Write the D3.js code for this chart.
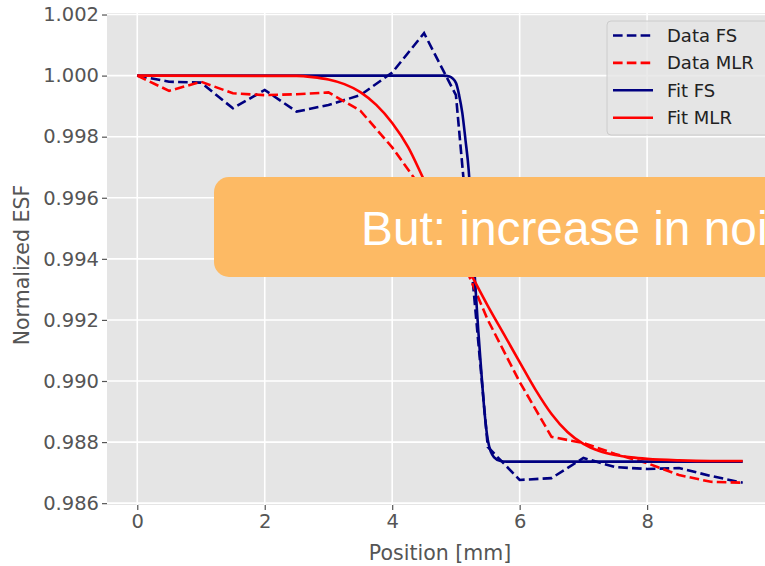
<!DOCTYPE html>
<html>
<head>
<meta charset="utf-8">
<script src="https://cdn.jsdelivr.net/npm/d3@7"></script>
<style>
  body { margin: 0; background: #fff; overflow: hidden; }
  text { font-family: "DejaVu Sans", sans-serif; }
</style>
</head>
<body>
<div id="esf_plot"></div>
<script>
// positions of the measured points [mm]
var positions = [0, 0.5, 1, 1.5, 2, 2.5, 3, 3.5, 4, 4.5, 5, 5.5, 6, 6.5, 7, 7.5, 8, 8.5, 9, 9.5];

// measured ESF, full spectrum and multi-level readout
var dataFS  = [1.00000, 0.99980, 0.99977, 0.99893, 0.99953, 0.99882, 0.99904, 0.99936, 1.00010, 1.00139,
               0.99936, 0.98784, 0.98676, 0.98682, 0.98748, 0.98718, 0.98712, 0.98715, 0.98689, 0.98667];
var dataMLR = [1.00000, 0.99950, 0.99980, 0.99942, 0.99936, 0.99939, 0.99945, 0.99885, 0.99765, 0.99619,
               0.99445, 0.99200, 0.98997, 0.98817, 0.98797, 0.98761, 0.98731, 0.98692, 0.98670, 0.98667];

// fitted curves
var fitFSx = [0, 4.8, 4.9, 5.0, 5.05, 5.1, 5.15, 5.2, 5.25, 5.3, 5.35, 5.4, 5.45, 5.5, 5.55, 5.6, 5.7, 5.8, 9.5];
var fitFSy = [1.00000, 1.00000, 0.99997, 0.99976, 0.99936, 0.99878, 0.99789, 0.99691, 0.99521, 0.99327,
              0.99167, 0.99026, 0.98895, 0.98807, 0.98767, 0.98750, 0.98738, 0.98736, 0.98736];
var fitMLRx = [0, 2.5, 2.75, 3.0, 3.25, 3.5, 3.75, 4.0, 4.25, 4.5, 4.75, 5.0, 5.25, 5.5, 5.75, 6.0, 6.25,
               6.5, 6.75, 7.0, 7.25, 7.5, 7.75, 8.0, 8.5, 9.0, 9.5];
var fitMLRy = [1.00000, 0.99999, 0.99995, 0.99987, 0.99972, 0.99946, 0.99904, 0.99845, 0.99766, 0.99658,
               0.99550, 0.99445, 0.99344, 0.99246, 0.99154, 0.99062, 0.98971, 0.98892, 0.98833, 0.98794,
               0.98771, 0.98758, 0.98750, 0.98745, 0.98740, 0.98738, 0.98738];

var xTicks = [0, 2, 4, 6, 8];
var yTicks = [0.986, 0.988, 0.990, 0.992, 0.994, 0.996, 0.998, 1.000, 1.002];

var seriesNames = ["Data FS", "Data MLR", "Fit FS", "Fit MLR"];
var seriesColors = ["#000080", "#ff0000", "#000080", "#ff0000"];
var seriesDashed = [true, true, false, false];

var noteText = "But: increase in noise";

//Set Margins
var margin = {top: 13, right: 0, bottom: 61, left: 107},
    width = 666,
    height = 492;

//Define SVG
var svg = d3.select("#esf_plot")
  .append("svg")
    .attr("width", 765)
    .attr("height", 566)
  .append("g")
    .attr("transform", "translate(" + margin.left + "," + margin.top + ")");

// Scales (matplotlib style limits with 5% margin)
var x = d3.scaleLinear().domain([-0.475, 9.975]).range([0, width]);
var y = d3.scaleLinear().domain([0.98594, 1.00205]).range([height, 0]);

// Background
svg.append("rect")
  .attr("width", width)
  .attr("height", height)
  .attr("fill", "#e5e5e5");

// Grid
svg.append("g")
  .selectAll("line")
  .data(xTicks)
  .enter().append("line")
    .attr("x1", function(d) { return x(d); })
    .attr("x2", function(d) { return x(d); })
    .attr("y1", 0)
    .attr("y2", height)
    .attr("stroke", "#fff")
    .attr("stroke-width", 1.6);
svg.append("g")
  .selectAll("line")
  .data(yTicks)
  .enter().append("line")
    .attr("x1", 0)
    .attr("x2", width)
    .attr("y1", function(d) { return y(d); })
    .attr("y2", function(d) { return y(d); })
    .attr("stroke", "#fff")
    .attr("stroke-width", 1.6);

// X Axis
var xAxis = svg.append("g")
  .attr("transform", "translate(0," + height + ")")
  .call(d3.axisBottom(x).tickValues(xTicks).tickFormat(d3.format("d")).tickSize(5).tickPadding(4));

// Y Axis
var yAxis = svg.append("g")
  .call(d3.axisLeft(y).tickValues(yTicks).tickFormat(d3.format(".3f")).tickSize(5).tickPadding(3));

[xAxis, yAxis].forEach(function(ax) {
  ax.select(".domain").remove();
  ax.selectAll(".tick line").attr("stroke", "#555").attr("stroke-width", 1.2);
  ax.selectAll(".tick text")
    .attr("fill", "#555")
    .style("font-size", "19.5px")
    .style("font-family", "DejaVu Sans, sans-serif");
});

// Axis labels
svg.append("text")
  .attr("text-anchor", "middle")
  .attr("x", x(4.75))
  .attr("y", height + 55)
  .attr("fill", "#555")
  .style("font-size", "20.5px")
  .text("Position [mm]");

svg.append("text")
  .attr("text-anchor", "middle")
  .attr("transform", "rotate(-90)")
  .attr("x", -height / 2 - 6)
  .attr("y", -78)
  .attr("fill", "#555")
  .style("font-size", "20.5px")
  .text("Normalized ESF");

// Lines
var line = d3.line()
  .x(function(d) { return x(d[0]); })
  .y(function(d) { return y(d[1]); });

var smooth = d3.line()
  .curve(d3.curveMonotoneX)
  .x(function(d) { return x(d[0]); })
  .y(function(d) { return y(d[1]); });

var seriesData = [
  d3.zip(positions, dataFS),
  d3.zip(positions, dataMLR),
  d3.zip(fitFSx, fitFSy),
  d3.zip(fitMLRx, fitMLRy)
];

seriesData.forEach(function(pts, i) {
  svg.append("path")
    .datum(pts)
    .attr("fill", "none")
    .attr("stroke", seriesColors[i])
    .attr("stroke-width", 2.6)
    .attr("stroke-dasharray", seriesDashed[i] ? "9.6,4.2" : null)
    .attr("d", seriesDashed[i] ? line : smooth);
});

// Legend
var legend = svg.append("g")
  .attr("transform", "translate(" + (607 - margin.left) + "," + (21 - margin.top) + ")");

legend.append("rect")
  .attr("width", 165)
  .attr("height", 114)
  .attr("rx", 4)
  .attr("fill", "#e5e5e5")
  .attr("fill-opacity", 0.8)
  .attr("stroke", "#cccccc")
  .attr("stroke-width", 1);

seriesNames.forEach(function(name, i) {
  var row = legend.append("g").attr("transform", "translate(0," + (14.5 + i * 27.4) + ")");
  row.append("line")
    .attr("x1", 6)
    .attr("x2", 46)
    .attr("stroke", seriesColors[i])
    .attr("stroke-width", 2.6)
    .attr("stroke-dasharray", seriesDashed[i] ? "9.6,4.2" : null);
  row.append("text")
    .attr("x", 60)
    .attr("dy", "0.35em")
    .attr("fill", "#222")
    .style("font-size", "18px")
    .text(name);
});

// Annotation box
svg.append("rect")
  .attr("x", 214 - margin.left)
  .attr("y", 177 - margin.top)
  .attr("width", 620)
  .attr("height", 100)
  .attr("rx", 15)
  .attr("fill", "#fdba64");

svg.append("text")
  .attr("x", 361 - margin.left)
  .attr("y", 245 - margin.top)
  .attr("fill", "#fff")
  .style("font-family", "Liberation Sans, Arial, sans-serif")
  .style("font-size", "47.8px")
  .text(noteText);
</script>
</body>
</html>
